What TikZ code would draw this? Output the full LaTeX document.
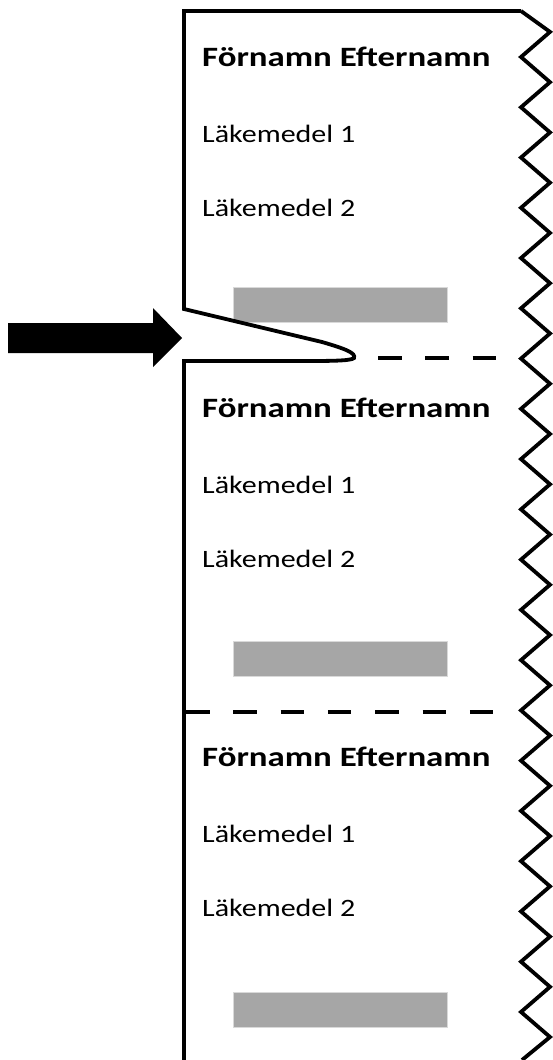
\documentclass[tikz,border=0pt]{standalone}
\usepackage{fontspec}
\setmainfont{Carlito}
\usetikzlibrary{positioning}

\newcommand{\widetext}[1]{\scalebox{1.2}[1]{#1}}
\newcommand{\widename}[1]{\scalebox{1.245}[1]{#1}}

\tikzset{
  namelabel/.style={anchor=base west, inner sep=0pt, font=\bfseries\fontsize{28}{28}\selectfont},
  druglabel/.style={anchor=base west, inner sep=0pt, font=\fontsize{25}{25}\selectfont},
  barcode/.style={draw=gray!30, line width=1pt, fill=black!35, minimum width=214pt, minimum height=35pt, inner sep=0pt},
  outline/.style={line width=3.8pt, line join=miter},
  cutline/.style={line width=4pt, dash pattern=on 23.5pt off 23.8pt}
}

\begin{document}
\begin{tikzpicture}[x=1pt, y=-1pt]
	\useasboundingbox (0,0) rectangle (552,1060);

	% First label
	\node[namelabel] (name1) at (202,66) {\widename{Förnamn Efternamn}};
	\node[druglabel] (drugA1) at (202,142) {\widetext{Läkemedel 1}};
	\node[druglabel] (drugB1) at (202,216) {\widetext{Läkemedel 2}};
	\node[barcode] (bar1) at (340,304.5) {};

	% Second label
	\node[namelabel] (name2) at (202,417) {\widename{Förnamn Efternamn}};
	\node[druglabel] (drugA2) at (202,493) {\widetext{Läkemedel 1}};
	\node[druglabel] (drugB2) at (202,567) {\widetext{Läkemedel 2}};
	\node[barcode] (bar2) at (340,658.5) {};

	% Third label
	\node[namelabel] (name3) at (202,766) {\widename{Förnamn Efternamn}};
	\node[druglabel] (drugA3) at (202,842) {\widetext{Läkemedel 1}};
	\node[druglabel] (drugB3) at (202,916) {\widetext{Läkemedel 2}};
	\node[barcode] (bar3) at (340,1009.5) {};

	%% Outline of the strip, with the torn-off tab
	\draw[outline] (521,11) -- (184,11) -- (184,309) -- (322,342)
		.. controls (346,349) and (356,353) .. (354,358)
		.. controls (351,361) and (330,361) .. (300,361) -- (184,361) -- (184,1060);
	\draw[outline] (521,11) foreach \k in {0,...,19} {
		-- (550,{31.9+50.26*\k}) -- (521,{57+50.26*\k}) } -- (550,1037) -- (522,1060);

	%% Arrow pointing at the tab
	\fill (8,323) -- (153,323) -- (153,308) -- (182,338) -- (153,367) -- (153,353) -- (8,353) -- cycle;

	% Cut lines between the labels
	\draw[cutline] (378,358) -- (497,358);
	\draw[cutline] (186,712) -- (497,712);
\end{tikzpicture}
\end{document}
